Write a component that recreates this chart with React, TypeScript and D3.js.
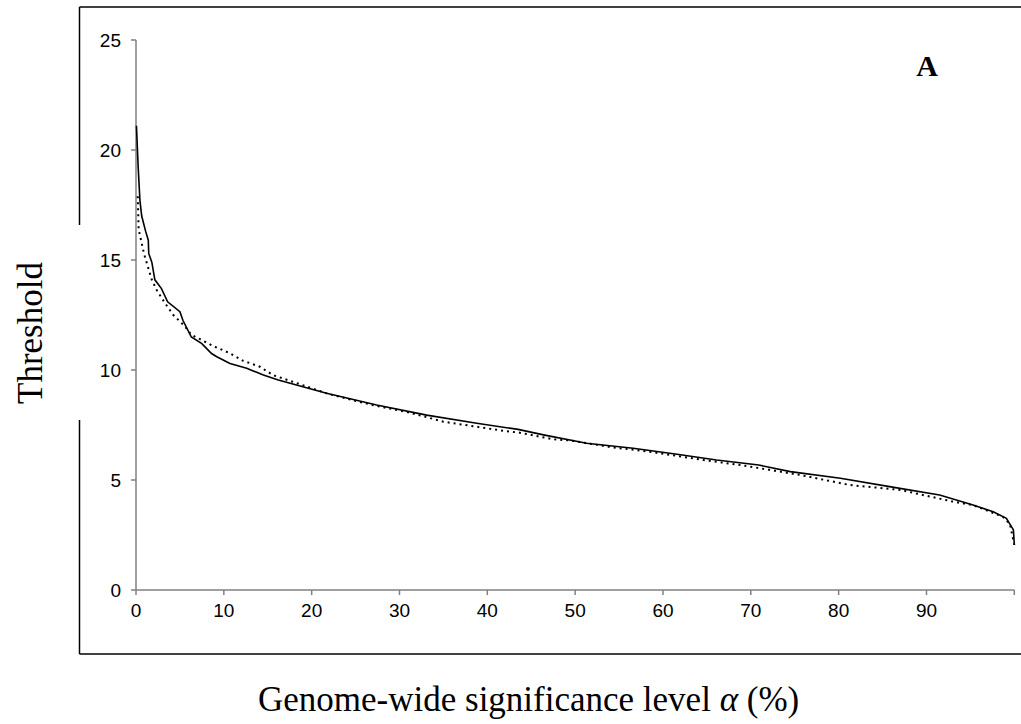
import React from "react";
import * as d3 from "d3";

// solid curve (alpha %, threshold)
const solidAlpha = [0.05, 0.25, 0.45, 0.65, 1.1, 1.4, 1.45, 1.8, 2.15, 2.9, 3.6, 5.0, 5.35, 6.3, 7.5, 8.6, 9.2, 10.7, 12.6, 14.5, 16.2, 21.7, 27.4, 33.1, 38.8, 43.5, 46.4, 51.3, 56.6, 61.6, 66.1, 70.9, 74.5, 80.2, 85.8, 91.5, 95.3, 97.6, 99.1, 99.9, 100];
const solidThr = [21.1, 19.2, 17.7, 17.0, 16.3, 15.9, 15.3, 14.9, 14.1, 13.7, 13.1, 12.65, 12.25, 11.5, 11.2, 10.75, 10.6, 10.3, 10.08, 9.77, 9.55, 8.94, 8.41, 7.95, 7.58, 7.3, 7.05, 6.67, 6.44, 6.17, 5.91, 5.68, 5.38, 5.08, 4.7, 4.32, 3.86, 3.56, 3.26, 2.73, 2.05];

// dotted curve
const dottedAlpha = [0.2, 0.3, 0.9, 1.8, 2.4, 3.3, 4.25, 5.6, 6.3, 7.3, 8.8, 10.7, 12.2, 14.1, 15.6, 22, 27, 31.2, 35, 38.8, 41.8, 43.7, 47.5, 49.6, 54, 58.9, 64.6, 69.3, 75.6, 81.3, 87, 93.1, 95.3, 98.7, 99.5, 100];
const dottedThr = [17.9, 16.4, 15.3, 14.1, 13.6, 13.04, 12.5, 11.97, 11.6, 11.4, 11.09, 10.76, 10.42, 10.15, 9.77, 8.9, 8.4, 8.06, 7.65, 7.42, 7.24, 7.15, 6.85, 6.79, 6.5, 6.26, 5.91, 5.65, 5.23, 4.77, 4.55, 4.01, 3.86, 3.33, 3.0, 2.05];

const xTicks = [0, 10, 20, 30, 40, 50, 60, 70, 80, 90, 100];
const xTickLabels = ["0", "10", "20", "30", "40", "50", "60", "70", "80", "90", ""];
const yTicks = [0, 5, 10, 15, 20, 25];

const W = 1021;
const H = 724;

export default function App() {
  const x = d3.scaleLinear().domain([0, 100]).range([136, 1014.3]);
  const y = d3.scaleLinear().domain([0, 25]).range([590, 40]);

  const line = d3
    .line<[number, number]>()
    .x((d) => x(d[0]))
    .y((d) => y(d[1]));

  const solid = solidAlpha.map((a, i) => [a, solidThr[i]] as [number, number]);
  const dotted = dottedAlpha.map((a, i) => [a, dottedThr[i]] as [number, number]);

  const axisCol = "#808080";
  const sans = "'Liberation Sans', Arial, sans-serif";
  const serif = "'Liberation Serif', 'Times New Roman', serif";

  return (
    <svg
      width={W}
      height={H}
      style={{ position: "absolute", left: 0, top: 0, background: "#fff" }}
    >
      {/* outer frame, broken where the y title sits */}
      <g stroke="#000" strokeWidth={1.5} fill="none">
        <line x1={79.5} y1={7} x2={W} y2={7} />
        <line x1={79.5} y1={654} x2={W} y2={654} />
        <line x1={79.5} y1={7} x2={79.5} y2={225} />
        <line x1={79.5} y1={420} x2={79.5} y2={654} />
      </g>

      {/* axes */}
      <g stroke={axisCol} strokeWidth={1.5}>
        <line x1={x(0)} y1={y(0)} x2={x(100)} y2={y(0)} />
        <line x1={x(0)} y1={y(0)} x2={x(0)} y2={y(25)} />
        {xTicks.map((t) => (
          <line key={"xt" + t} x1={x(t)} x2={x(t)} y1={y(0)} y2={y(0) + 5} />
        ))}
        {yTicks.map((t) => (
          <line key={"yt" + t} x1={x(0) - 5} x2={x(0)} y1={y(t)} y2={y(t)} />
        ))}
      </g>

      <g fontFamily={sans} fontSize={19} fill="#000">
        {xTicks.map((t, i) => (
          <text key={"xl" + t} x={x(t)} y={617} textAnchor="middle">
            {xTickLabels[i]}
          </text>
        ))}
        {yTicks.map((t) => (
          <text key={"yl" + t} x={121} y={y(t) + 7} textAnchor="end">
            {t}
          </text>
        ))}
      </g>

      {/* curves */}
      <path d={line(dotted) || ""} fill="none" stroke="#000" strokeWidth={2} strokeDasharray="2 4" />
      <path d={line(solid) || ""} fill="none" stroke="#000" strokeWidth={1.6} />

      {/* labels */}
      <text x={927} y={76} fontFamily={serif} fontWeight="bold" fontSize={30} textAnchor="middle">
        A
      </text>
      <text
        transform="translate(42,333) rotate(-90)"
        fontFamily={serif}
        fontSize={35}
        textAnchor="middle"
      >
        Threshold
      </text>
      <text x={258} y={711} fontFamily={serif} fontSize={35}>
        Genome-wide significance level{" "}
        <tspan fontStyle="italic">α</tspan> (%)
      </text>
    </svg>
  );
}
